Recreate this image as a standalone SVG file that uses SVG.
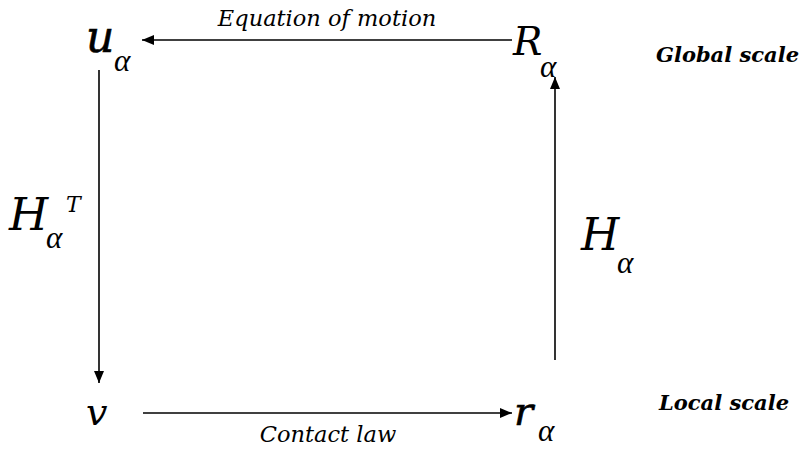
<svg xmlns="http://www.w3.org/2000/svg" width="807" height="450" viewBox="0 0 807 450">
<style>
.sym{font-family:"DejaVu Serif","Liberation Serif",serif;font-style:italic;fill:#000}
.sub{font-family:"Liberation Serif","DejaVu Serif",serif;font-style:italic;fill:#000;font-size:31px}
.sup{font-family:"DejaVu Serif","Liberation Serif",serif;font-style:italic;fill:#000;font-size:22px}
.lbl{font-family:"DejaVu Serif","Liberation Serif",serif;font-style:italic;fill:#000;font-size:22.5px}
.scale{font-family:"DejaVu Serif","Liberation Serif",serif;font-style:italic;font-weight:bold;fill:#000;font-size:21px}
.ln{stroke:#000;stroke-width:1.6;fill:none}
</style>
<defs>
<marker id="ah" viewBox="0 0 12 10" refX="12" refY="5" markerWidth="12" markerHeight="10" markerUnits="userSpaceOnUse" orient="auto">
<path d="M0,0 L12,5 L0,10 Z" fill="#000"/>
</marker>
</defs>
<g id="connectors">
<line class="ln" x1="512" y1="40" x2="142" y2="40" marker-end="url(#ah)"/>
<line class="ln" x1="99" y1="70" x2="99" y2="383" marker-end="url(#ah)"/>
<line class="ln" x1="143" y1="413" x2="512" y2="413" marker-end="url(#ah)"/>
<line class="ln" x1="555" y1="360" x2="555" y2="77" marker-end="url(#ah)"/>
<text class="lbl" x="327" y="26" text-anchor="middle">Equation of motion</text>
<text class="lbl" x="328" y="442" text-anchor="middle">Contact law</text>
</g>
<g id="u">
<text class="sym" x="86" y="52" font-size="44" stroke="#000" stroke-width="0.6">u</text>
<text class="sub" x="114" y="71">α</text>
</g>
<g id="R">
<text class="sym" x="513" y="55" font-size="39">R</text>
<text class="sub" x="540" y="77">α</text>
</g>
<g id="v">
<text class="sym" x="86" y="425" font-size="38">v</text>
</g>
<g id="r">
<text class="sym" x="514" y="425" font-size="40" stroke="#000" stroke-width="0.6">r</text>
<text class="sub" x="538" y="441" font-size="28">α</text>
</g>
<g id="HT">
<text class="sym" x="9" y="230" font-size="45">H</text>
<text class="sub" x="46" y="248">α</text>
<text class="sup" x="66" y="212">T</text>
</g>
<g id="H">
<text class="sym" x="581" y="250" font-size="44">H</text>
<text class="sub" x="617" y="273">α</text>
</g>
<g id="global">
<text class="scale" x="656" y="62">Global scale</text>
</g>
<g id="local">
<text class="scale" x="659" y="410">Local scale</text>
</g>
</svg>
